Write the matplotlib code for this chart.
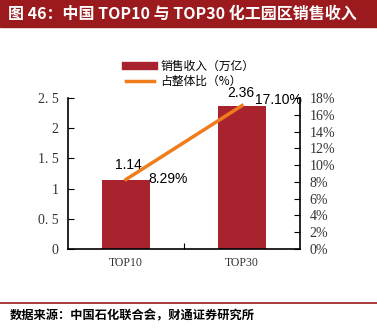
import matplotlib
matplotlib.use("Agg")
import matplotlib.pyplot as plt
from matplotlib.lines import Line2D

categories = ["TOP10", "TOP30"]
revenue = [1.14, 2.36]
share = [8.29, 17.10]
left_ticks = [0, 0.5, 1, 1.5, 2, 2.5]
left_labels = ["0", "0. 5", "1", "1. 5", "2", "2. 5"]
right_ticks = [0, 2, 4, 6, 8, 10, 12, 14, 16, 18]

CJK = ["Noto Sans CJK SC", "DejaVu Sans"]
SERIF = "Liberation Serif"
SANS = "Liberation Sans"
bar_color = "#a8232e"
line_color = "#f07c1c"

W, H = 377, 330
fig = plt.figure(figsize=(W / 100, H / 100), dpi=100)

# title bar
fig.patches.append(plt.Rectangle((0, 1 - 27 / H), 1, 27 / H, transform=fig.transFigure,
                                 color="#9a1a1d", zorder=0))
fig.text(8 / W, 1 - 14 / H, "图 46：中国 TOP10 与 TOP30 化工园区销售收入", color="white",
         fontsize=11.5, fontweight="bold", family=CJK, va="center", ha="left")

ax = fig.add_axes([68 / W, 1 - 249 / H, 232 / W, 151 / H])
x = list(range(len(categories)))
ax.bar(x, revenue, width=0.41, color=bar_color, zorder=2)
ax.set_xlim(-0.5, 1.5)
ax.set_ylim(0, 2.5)
ax.set_yticks(left_ticks)
ax.set_yticklabels(left_labels, family=SERIF, fontsize=10, color="#333333")
ax.set_xticks([0.5])
ax.set_xticklabels([""])
for i, c in enumerate(categories):
    ax.text(i, -0.13, c, ha="center", va="top", family=SERIF, fontsize=8.5, color="#333333")
ax.tick_params(axis="y", direction="in", length=4, pad=7)
ax.tick_params(axis="x", direction="in", length=4)
ax.spines["top"].set_visible(False)
ax.spines["left"].set_linewidth(1.2)
ax.spines["bottom"].set_linewidth(1.2)
ax.spines["right"].set_visible(False)

ax2 = ax.twinx()
ax2.plot(x, share, color=line_color, linewidth=2.5, zorder=3)
ax2.set_ylim(0, 18)
ax2.set_yticks(right_ticks)
ax2.set_yticklabels([f"{t}%" for t in right_ticks], family=SERIF, fontsize=10, color="#333333")
ax2.tick_params(axis="y", direction="in", length=4, pad=7)
ax2.spines["top"].set_visible(False)
ax2.spines["left"].set_visible(False)
ax2.spines["bottom"].set_visible(False)
ax2.spines["right"].set_linewidth(1.2)

# data labels
ax.annotate(f"{revenue[0]:.2f}", (x[0], revenue[0]), xytext=(2, 11), textcoords="offset points",
            ha="center", va="center", family=SANS, fontsize=10)
ax.annotate(f"{revenue[1]:.2f}", (x[1], revenue[1]), xytext=(-1, 10), textcoords="offset points",
            ha="center", va="center", family=SANS, fontsize=10)
ax2.annotate(f"{share[0]:.2f}%", (x[0], share[0]), xytext=(30, 0), textcoords="offset points",
             ha="center", va="center", family=SANS, fontsize=10)
ax2.annotate(f"{share[1]:.2f}%", (x[1], share[1]), xytext=(26, 4), textcoords="offset points",
             ha="center", va="center", family=SANS, fontsize=10)

handles = [Line2D([0], [0], color=bar_color, linewidth=6),
           Line2D([0], [0], color=line_color, linewidth=2.5)]
fig.legend(handles, ["销售收入（万亿）", "占整体比（%）"], loc="upper left",
           bbox_to_anchor=(120 / W, 1 - 54 / H), frameon=False, prop={"family": CJK, "size": 8.5},
           handlelength=2.4, labelspacing=0.15, borderpad=0, handletextpad=0.5)

# footer
fig.add_artist(Line2D([0, 1], [1 - 303 / H, 1 - 303 / H], transform=fig.transFigure,
                      color="#9a1a1d", linewidth=1.2))
fig.text(10 / W, 1 - 316 / H, "数据来源：中国石化联合会，财通证券研究所", fontsize=8.8,
         fontweight="bold", family=CJK, va="center", ha="left")

fig.savefig("out.png", dpi=100)
